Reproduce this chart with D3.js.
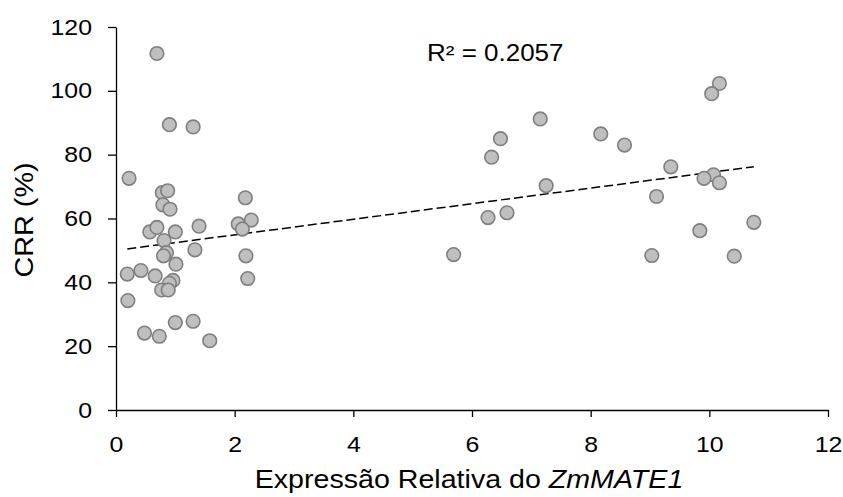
<!DOCTYPE html>
<html>
<head>
<meta charset="utf-8">
<script src="https://cdn.jsdelivr.net/npm/d3@7"></script>
<style>
  body { margin: 0; background: #fff; }
  svg text { font-family: "Liberation Sans", Arial, sans-serif; fill: #000; }
</style>
</head>
<body>
<svg id="chart"></svg>
<script>
// Expression values (x) and CRR (y)
const expr = [0.22, 0.69, 0.90, 1.30, 0.78, 0.87, 2.18, 0.79, 0.91, 0.57,
              0.69, 1.00, 1.40, 2.06, 2.28, 2.13, 0.81, 0.85, 0.80, 1.33,
              1.01, 2.19, 0.19, 0.42, 0.66, 2.22, 0.96, 0.90, 0.77, 0.88,
              0.20, 1.00, 1.30, 0.48, 0.73, 1.58,
              7.15, 6.48, 6.33, 8.17, 8.57, 7.25, 6.27, 6.59, 5.69,
              10.17, 10.04, 9.35, 10.07, 9.91, 10.17, 9.11, 10.75, 9.84, 9.03, 10.42];
const crr = [72.6, 111.7, 89.4, 88.7, 68.1, 68.7, 66.5, 64.3, 62.9, 55.8,
             57.2, 55.8, 57.6, 58.3, 59.5, 56.7, 53.1, 49.3, 48.3, 50.2,
             45.7, 48.3, 42.6, 43.7, 42.0, 41.2, 40.6, 39.7, 37.6, 37.6,
             34.3, 27.4, 27.8, 24.1, 23.1, 21.7,
             91.2, 85.0, 79.2, 86.5, 83.0, 70.3, 60.3, 61.8, 48.7,
             102.3, 99.1, 76.2, 73.7, 72.6, 71.2, 66.9, 58.8, 56.2, 48.4, 48.2];

// linear trend line shown on the chart
const trendSlope = 2.44;
const trendIntercept = 50.0;
const r2Label = "R² = 0.2057";

const xTicks = [0, 2, 4, 6, 8, 10, 12];
const yTicks = [0, 20, 40, 60, 80, 100, 120];

const width = 843, height = 497;
const margin = {top: 27, right: 15, bottom: 87, left: 116};
// text in the original is a bit wider than Arial
const stretch = 1.13;

const svg = d3.select("#chart")
              .attr("width", width)
              .attr("height", height);

const x = d3.scaleLinear().domain([0, 12]).range([margin.left, width - margin.right]);
const y = d3.scaleLinear().domain([0, 120]).range([height - margin.bottom, margin.top]);

// axes
const xAxis = svg.append("g")
                 .attr("transform", `translate(0,${y(0)})`)
                 .call(d3.axisBottom(x).tickValues(xTicks).tickSize(7).tickPadding(19).tickSizeOuter(0));
const yAxis = svg.append("g")
                 .attr("transform", `translate(${x(0)},0)`)
                 .call(d3.axisLeft(y).tickValues(yTicks).tickSize(8).tickPadding(16).tickSizeOuter(0));

[xAxis, yAxis].forEach(g => {
   g.selectAll("path.domain").attr("stroke", "#000").attr("stroke-width", 1.3);
   g.selectAll(".tick line").attr("stroke", "#000").attr("stroke-width", 1.3);
   g.selectAll(".tick text")
    .style("font-family", '"Liberation Sans", Arial, sans-serif')
    .attr("font-size", 22)
    .attr("fill", "#000")
    .each(function() {
       const t = d3.select(this);
       const tx = +t.attr("x") || 0;
       t.attr("x", 0).attr("transform", `translate(${tx},0) scale(${stretch},1)`);
    });
});

// trend line across the data range
const xs = d3.extent(expr);
svg.append("line")
   .attr("x1", x(xs[0]))
   .attr("y1", y(trendIntercept + trendSlope * xs[0]))
   .attr("x2", x(xs[1]))
   .attr("y2", y(trendIntercept + trendSlope * xs[1]))
   .attr("stroke", "#000")
   .attr("stroke-width", 1.5)
   .attr("stroke-dasharray", "9,4");

// points
svg.append("g")
   .selectAll("circle")
   .data(expr.map((d, i) => [d, crr[i]]))
   .enter()
   .append("circle")
   .attr("cx", d => x(d[0]))
   .attr("cy", d => y(d[1]))
   .attr("r", 6.8)
   .attr("fill", "#bfbfbf")
   .attr("stroke", "#7f7f7f")
   .attr("stroke-width", 1.6);

// R² label
svg.append("text")
   .attr("transform", `translate(427,60.5) scale(${stretch},1)`)
   .attr("font-size", 23)
   .text(r2Label);

// axis titles
const xt = svg.append("text")
              .attr("transform", "translate(469,488) scale(1.1,1)")
              .attr("text-anchor", "middle")
              .attr("font-size", 26);
xt.append("tspan").text("Expressão Relativa do ");
xt.append("tspan").attr("font-style", "italic").text("ZmMATE1");

svg.append("text")
   .attr("transform", `translate(33,220) rotate(-90) scale(${stretch},1)`)
   .attr("text-anchor", "middle")
   .attr("font-size", 25.5)
   .text("CRR (%)");
</script>
</body>
</html>
